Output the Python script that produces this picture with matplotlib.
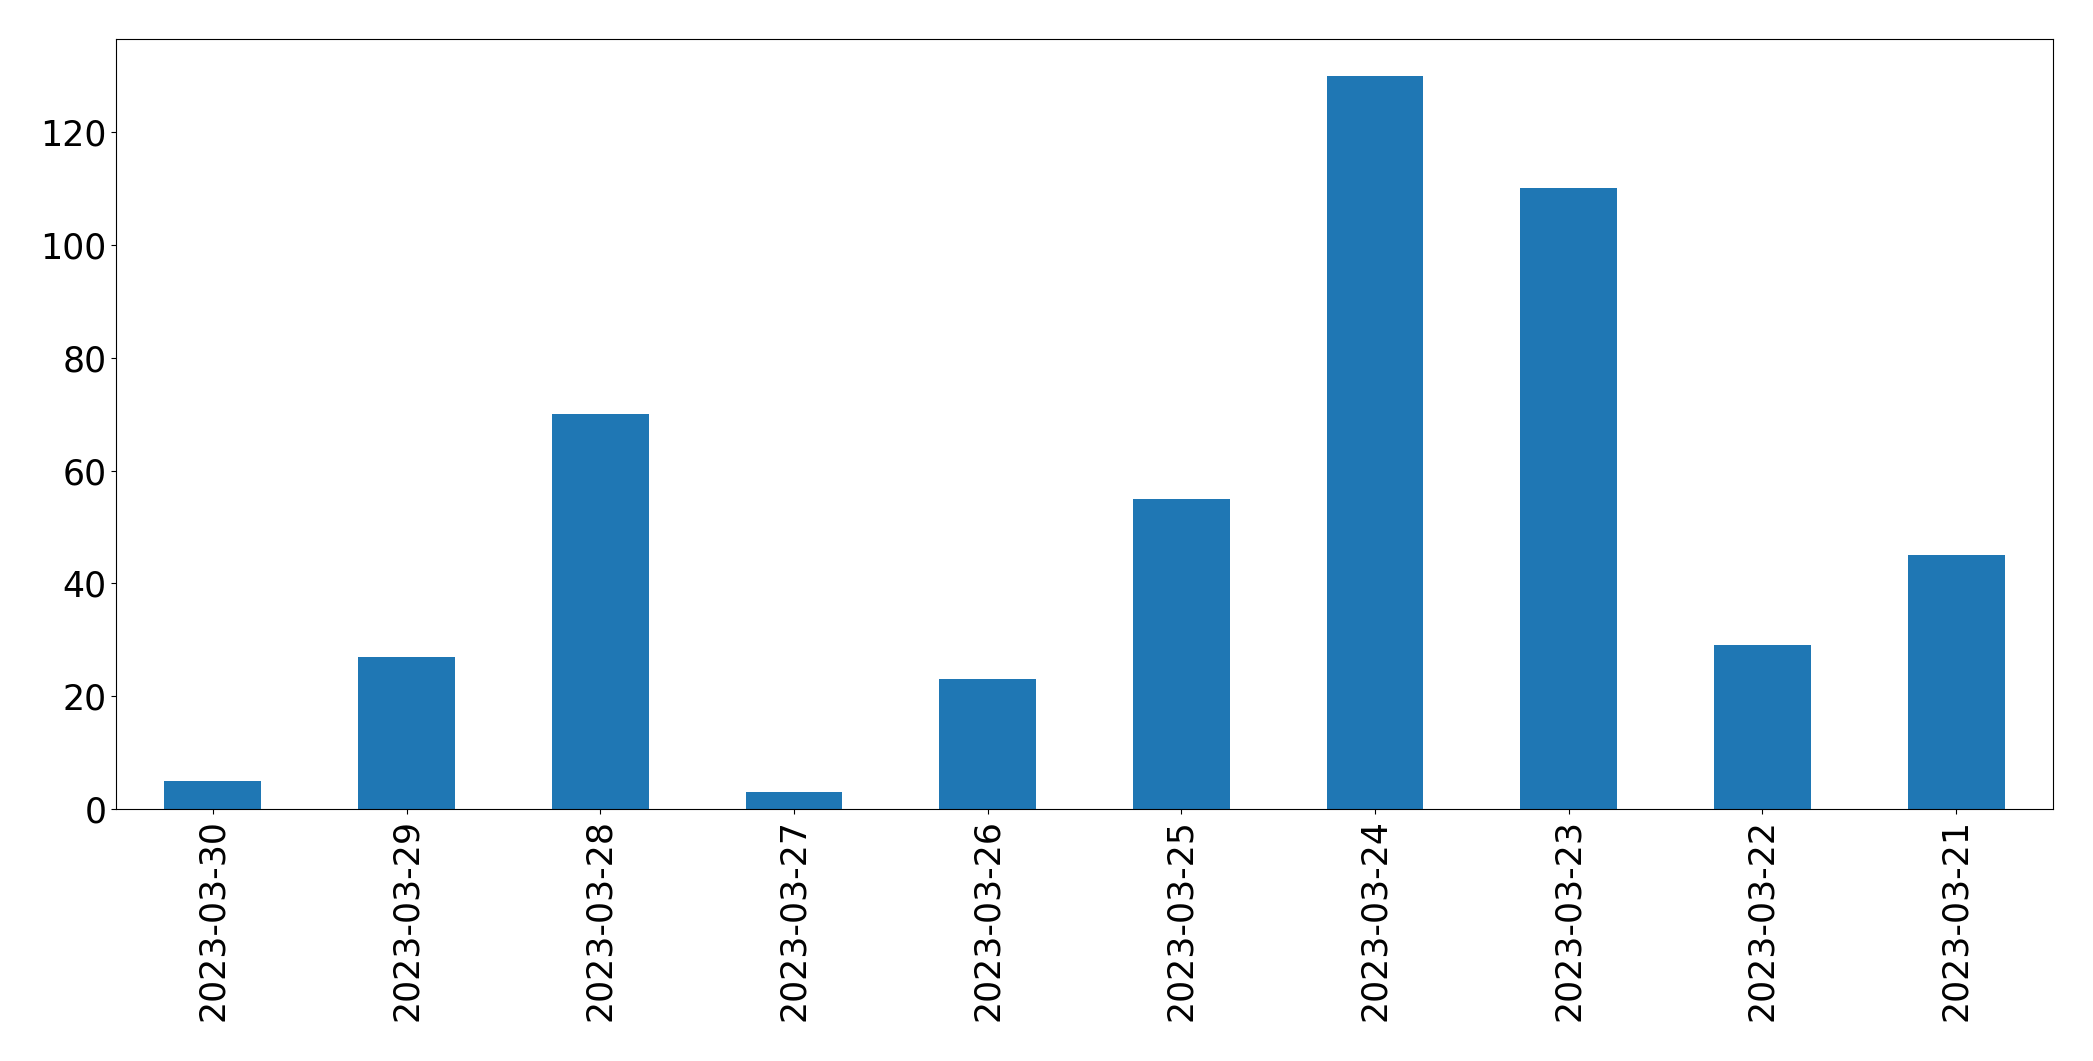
import matplotlib
matplotlib.use("Agg")
import matplotlib.pyplot as plt
import numpy as np

dates = ["2023-03-30", "2023-03-29", "2023-03-28", "2023-03-27", "2023-03-26",
         "2023-03-25", "2023-03-24", "2023-03-23", "2023-03-22", "2023-03-21"]
counts = [5, 27, 70, 3, 23, 55, 130, 110, 29, 45]

fig, ax = plt.subplots(figsize=(20.93, 10.61), dpi=100)
fig.subplots_adjust(left=116 / 2093, right=2053 / 2093,
                    top=1 - 39 / 1061, bottom=1 - 809 / 1061)

x = np.arange(len(dates))
ax.bar(x, counts, width=0.5, color="#1f77b4")
ax.set_xlim(-0.5, len(dates) - 0.5)
ax.set_xticks(x)
ax.set_xticklabels(dates, rotation=90)
ax.tick_params(axis="both", labelsize=25)

fig.savefig("out.png", dpi=100)
